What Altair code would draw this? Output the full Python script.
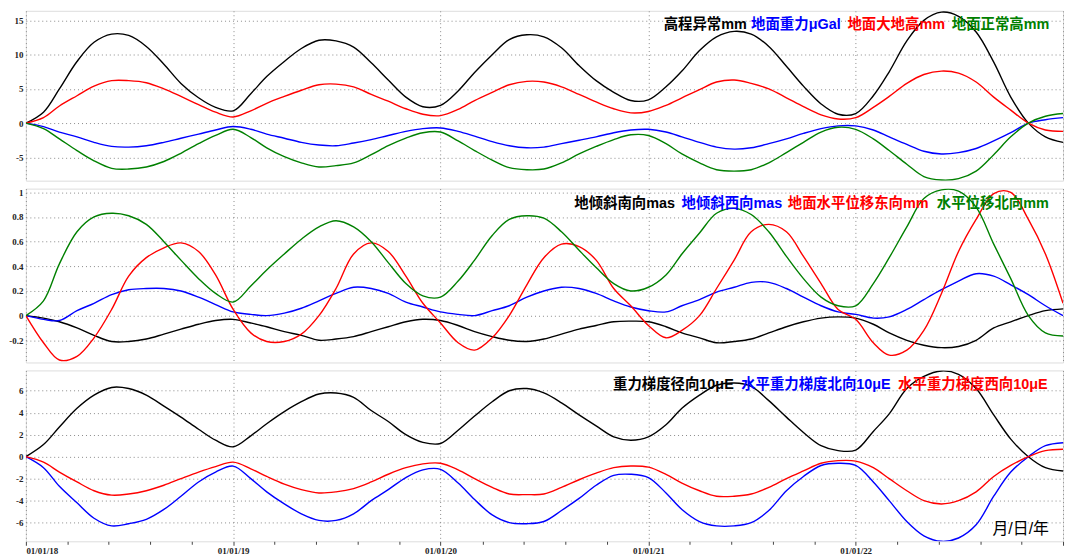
import altair as alt
import pandas as pd

# ---------------- data (monthly readings, 2018-01 .. 2023-01) ----------------
dates = [d.strftime("%Y-%m-%dT00:00:00") for d in pd.date_range("2018-01-01", periods=61, freq="MS")]

# Panel 1
p1_names = ["高程异常mm", "地面重力μGal", "地面大地高mm", "地面正常高mm"]
p1_black = [0, 1.6, 5.0, 9.0, 11.8, 13.0, 12.8, 11.2, 8.6, 5.8, 3.7, 2.3,
            1.8, 4.3, 6.8, 9.0, 10.9, 12.1, 12.0, 11.1, 8.8, 6.3, 3.8, 2.4,
            2.6, 4.7, 7.4, 10.0, 12.2, 12.9, 12.6, 11.0, 8.4, 6.2, 4.5, 3.3,
            3.4, 5.3, 7.6, 10.6, 12.6, 13.4, 13.0, 11.2, 8.3, 5.4, 2.8, 1.3,
            1.4, 4.0, 7.5, 12.0, 15.0, 16.2, 15.6, 13.3, 8.9, 3.8, 0.0, -2.0, -2.8]
p1_blue = [0, -0.5, -1.3, -2.0, -2.8, -3.4, -3.5, -3.3, -2.8, -2.2, -1.6, -1.0,
           -0.5, -0.9, -1.6, -2.2, -2.8, -3.2, -3.3, -2.9, -2.4, -1.8, -1.2, -0.8,
           -0.7, -1.2, -1.9, -2.7, -3.3, -3.6, -3.5, -3.0, -2.5, -2.0, -1.4, -1.0,
           -0.9, -1.3, -2.0, -2.8, -3.5, -3.8, -3.6, -3.0, -2.3, -1.5, -0.8, -0.4,
           -0.4, -1.0, -2.0, -3.1, -4.1, -4.5, -4.3, -3.7, -2.6, -1.4, 0.0, 0.5, 0.8]
p1_red = [0, 0.8, 2.5, 4.0, 5.4, 6.2, 6.2, 5.9, 5.0, 3.9, 2.7, 1.6,
          0.9, 1.8, 2.9, 3.9, 4.8, 5.6, 5.7, 5.3, 4.2, 3.2, 2.1, 1.3,
          1.1, 2.0, 3.3, 4.5, 5.6, 6.1, 6.0, 5.3, 4.2, 3.1, 2.1, 1.5,
          1.7, 2.6, 3.7, 4.9, 6.0, 6.3, 5.8, 5.0, 3.7, 2.4, 1.2, 0.6,
          0.8, 2.3, 3.9, 5.8, 7.1, 7.6, 7.3, 6.0, 3.8, 1.9, 0.0, -1.0, -1.2]
p1_green = [0, -0.8, -2.3, -4.0, -5.5, -6.6, -6.7, -6.4, -5.6, -4.4, -3.0, -1.8,
            -0.9, -2.1, -3.6, -4.9, -5.8, -6.4, -6.2, -5.8, -4.6, -3.3, -2.2, -1.4,
            -1.3, -2.6, -4.0, -5.4, -6.5, -6.8, -6.7, -5.8, -4.5, -3.4, -2.4, -1.7,
            -1.8, -3.0, -4.5, -5.8, -6.8, -7.0, -6.8, -5.8, -4.3, -2.8, -1.3, -0.6,
            -0.9, -2.3, -4.0, -6.0, -7.8, -8.3, -8.1, -7.0, -4.6, -2.0, 0.0, 1.0, 1.4]
p1_ticks = [-5, 0, 5, 10, 15]

# Panel 2
p2_names = ["地倾斜南向mas", "地倾斜西向mas", "地面水平位移东向mm", "水平位移北向mm"]
p2_black = [0, -0.02, -0.05, -0.1, -0.16, -0.21, -0.21, -0.19, -0.15, -0.11, -0.07, -0.04,
            -0.03, -0.06, -0.09, -0.13, -0.16, -0.2, -0.19, -0.17, -0.13, -0.09, -0.05, -0.03,
            -0.04, -0.08, -0.13, -0.17, -0.2, -0.21, -0.19, -0.15, -0.11, -0.08, -0.05, -0.045,
            -0.05, -0.09, -0.14, -0.18, -0.22, -0.21, -0.19, -0.14, -0.09, -0.05, -0.02, -0.01,
            -0.02, -0.07, -0.14, -0.2, -0.24, -0.26, -0.25, -0.2, -0.1, -0.05, 0.0, 0.04, 0.055]
p2_blue = [0, -0.03, -0.04, 0.04, 0.1, 0.17, 0.21, 0.22, 0.22, 0.2, 0.15, 0.09,
           0.03, 0.01, 0.0, 0.02, 0.06, 0.12, 0.18, 0.23, 0.22, 0.18, 0.11, 0.07,
           0.03, 0.01, 0.0, 0.04, 0.08, 0.15, 0.2, 0.23, 0.22, 0.18, 0.12, 0.07,
           0.04, 0.03, 0.08, 0.13, 0.19, 0.23, 0.27, 0.27, 0.22, 0.15, 0.08, 0.03,
           0.01, -0.02, -0.01, 0.05, 0.13, 0.21, 0.28, 0.34, 0.32, 0.25, 0.17, 0.08, 0.0]
p2_red = [0, -0.22, -0.36, -0.33, -0.18, 0.05, 0.32, 0.47, 0.55, 0.59, 0.52, 0.33,
          0.05, -0.14, -0.21, -0.21, -0.15, 0.0, 0.22, 0.5, 0.59, 0.52, 0.32, 0.1,
          -0.06, -0.22, -0.28, -0.18, 0.0, 0.25, 0.47, 0.58, 0.56, 0.45, 0.22, 0.08,
          -0.08, -0.18, -0.12, 0.0, 0.22, 0.45, 0.68, 0.74, 0.68, 0.48, 0.26, 0.05,
          -0.03, -0.22, -0.32, -0.28, -0.12, 0.18, 0.52, 0.78, 0.99, 1.0, 0.78, 0.5, 0.1]
p2_green = [0, 0.12, 0.42, 0.68, 0.8, 0.83, 0.81, 0.74, 0.6, 0.45, 0.3, 0.18,
            0.11, 0.24, 0.37, 0.5, 0.62, 0.72, 0.77, 0.72, 0.6, 0.43, 0.26, 0.16,
            0.15, 0.28, 0.45, 0.65, 0.78, 0.81, 0.79, 0.68, 0.53, 0.39, 0.26, 0.2,
            0.23, 0.33, 0.5, 0.67, 0.83, 0.87, 0.82, 0.68, 0.48, 0.3, 0.15, 0.08,
            0.08, 0.26, 0.47, 0.72, 0.95, 1.02, 1.01, 0.88, 0.58, 0.3, 0.0, -0.14, -0.165]
p2_ticks = [-0.2, 0, 0.2, 0.4, 0.6, 0.8, 1]

# Panel 3
p3_names = ["重力梯度径向10μE", "水平重力梯度北向10μE", "水平重力梯度西向10μE"]
p3_black = [0, 1.1, 2.7, 4.4, 5.6, 6.3, 6.2, 5.6, 4.6, 3.6, 2.5, 1.5,
            0.9, 1.9, 3.0, 4.1, 5.0, 5.7, 5.8, 5.4, 4.2, 3.2, 2.0, 1.3,
            1.2, 2.4, 3.7, 5.0, 6.0, 6.2, 5.8, 4.9, 3.8, 2.8, 1.8, 1.5,
            1.8, 2.9, 4.4, 5.6, 6.5, 6.7, 6.4, 5.1, 3.6, 2.2, 1.0, 0.55,
            0.6, 2.3, 3.9, 6.2, 7.3, 7.8, 7.5, 6.2, 3.8, 1.6, 0.0, -1.0, -1.3]
p3_blue = [0, -1.0, -2.7, -4.2, -5.6, -6.3, -6.1, -5.7, -4.8, -3.6, -2.3, -1.4,
           -0.86, -2.0, -3.2, -4.3, -5.2, -5.8, -5.8, -5.2, -4.0, -3.0, -1.9, -1.2,
           -1.15, -2.4, -3.9, -5.3, -6.0, -6.1, -5.9, -4.9, -3.8, -2.6, -1.7, -1.6,
           -1.9, -3.3, -4.8, -5.9, -6.3, -6.3, -6.0, -4.9, -3.1, -1.8, -0.8, -0.6,
           -0.8, -2.3, -4.0, -5.9, -7.2, -7.7, -7.4, -6.2, -3.6, -1.4, 0.0, 1.0, 1.27]
p3_red = [0, -0.5, -1.4, -2.3, -3.1, -3.5, -3.4, -3.1, -2.6, -2.0, -1.4, -0.9,
          -0.5, -1.1, -1.8, -2.5, -3.0, -3.3, -3.2, -2.9, -2.3, -1.6, -1.0, -0.65,
          -0.6, -1.2, -2.0, -2.8, -3.4, -3.45, -3.4, -2.8, -2.1, -1.5, -1.0, -0.85,
          -0.95, -1.6, -2.4, -3.1, -3.6, -3.6, -3.4, -2.8, -2.0, -1.3, -0.6, -0.36,
          -0.4, -1.0, -2.0, -3.1, -4.0, -4.3, -4.0, -3.2, -1.8, -0.8, 0.0, 0.55, 0.68]
p3_ticks = [-6, -4, -2, 0, 2, 4, 6]

x_unit_label = "月/日/年"

# ---------------- styling ----------------
BLACK, BLUE, RED, GREEN = "#000000", "#0000ff", "#ff0000", "#008000"
W = 1044
LABEL_FONT = "Liberation Serif"
TEXT_FONT = "Liberation Sans, Noto Sans CJK SC"

x_tick_values = []
for yr in range(2018, 2023):
    for (m, d) in [(1, 1), (3, 15), (5, 27), (8, 8), (10, 20)]:
        x_tick_values.append(alt.DateTime(year=yr, month=m, date=d))
x_tick_values.append(alt.DateTime(year=2023, month=1, date=1))
is_year = "month(datum.value) == 0 && date(datum.value) == 1"

x_domain = [alt.DateTime(year=2018, month=1, date=1), alt.DateTime(year=2023, month=1, date=1)]


def x_axis(bottom):
    common = dict(
        values=x_tick_values,
        grid=True,
        gridOpacity={"condition": {"test": is_year, "value": 1}, "value": 0},
        gridDash=[1, 3],
        gridColor="#8a8a8a",
        domain=False,
        title=None,
    )
    if bottom:
        return alt.Axis(
            labelExpr=f"({is_year}) && year(datum.value) < 2023 ? timeFormat(datum.value, '%m/%d/%y') : ''",
            ticks=True,
            tickSize={"condition": {"test": is_year, "value": 4}, "value": 3},
            tickColor="#444444",
            labelFont=LABEL_FONT,
            labelFontWeight="bold",
            labelFontSize=9,
            labelColor="#222222",
            labelPadding=1,
            **common,
        )
    return alt.Axis(labels=False, ticks=False, **common)


def panel(names, colors, arrays, ydomain, yticks, height, bottom, legend_x, legend_y, extra=None):
    rows = []
    for name, arr in zip(names, arrays):
        for d, v in zip(dates, arr):
            rows.append({"date": d, "value": v, "series": name})
    df = pd.DataFrame(rows)
    lines = alt.Chart(df).mark_line(strokeWidth=1.4, interpolate="catmull-rom", clip=True).encode(
        x=alt.X("date:T", scale=alt.Scale(domain=x_domain), axis=x_axis(bottom)),
        y=alt.Y(
            "value:Q",
            scale=alt.Scale(domain=ydomain, nice=False, zero=False),
            axis=alt.Axis(
                values=yticks,
                grid=True,
                gridDash=[1, 3],
                gridColor="#8a8a8a",
                ticks=False,
                domain=False,
                labelFont=LABEL_FONT,
                labelFontWeight="bold",
                labelFontSize=9,
                labelColor="#222222",
                labelPadding=3,
                labelExpr="'' + datum.value",
                title=None,
            ),
        ),
        color=alt.Color("series:N", scale=alt.Scale(domain=names, range=colors), legend=None),
    ).properties(width=W, height=height)

    layers = [lines]
    for name, col, lx in zip(names, colors, legend_x):
        layers.append(
            alt.Chart(pd.DataFrame({"t": [name]})).mark_text(
                align="left", baseline="middle", font=TEXT_FONT, fontSize=14.5,
                fontWeight="bold", color=col,
            ).encode(text="t:N", x=alt.value(lx), y=alt.value(legend_y))
        )
    if extra is not None:
        layers.append(extra)
    return alt.layer(*layers)


c1 = panel(p1_names, [BLACK, BLUE, RED, GREEN], [p1_black, p1_blue, p1_red, p1_green],
           [-8.4, 16.4], p1_ticks, 171, False, [642, 730, 827, 932], 14)
c2 = panel(p2_names, [BLACK, BLUE, RED, GREEN], [p2_black, p2_blue, p2_red, p2_green],
           [-0.38, 1.03], p2_ticks, 175, False, [552, 660, 767, 917], 16)
unit_text = alt.Chart(pd.DataFrame({"t": [x_unit_label]})).mark_text(
    align="left", baseline="middle", font=TEXT_FONT, fontSize=16, color="#000000",
).encode(text="t:N", x=alt.value(973), y=alt.value(160))
c3 = panel(p3_names, [BLACK, BLUE, RED], [p3_black, p3_blue, p3_red],
           [-7.7, 7.85], p3_ticks, 172, True, [591, 720, 878], 15, extra=unit_text)

chart = alt.vconcat(c1, c2, c3, spacing=8, bounds="flush").properties(
    padding={"left": 0, "top": 0, "right": 2, "bottom": 0}
).configure_view(stroke="#444444", strokeWidth=1.2).configure(background="white")

chart.save("out.html", embed_options={"renderer": "svg", "actions": False})
